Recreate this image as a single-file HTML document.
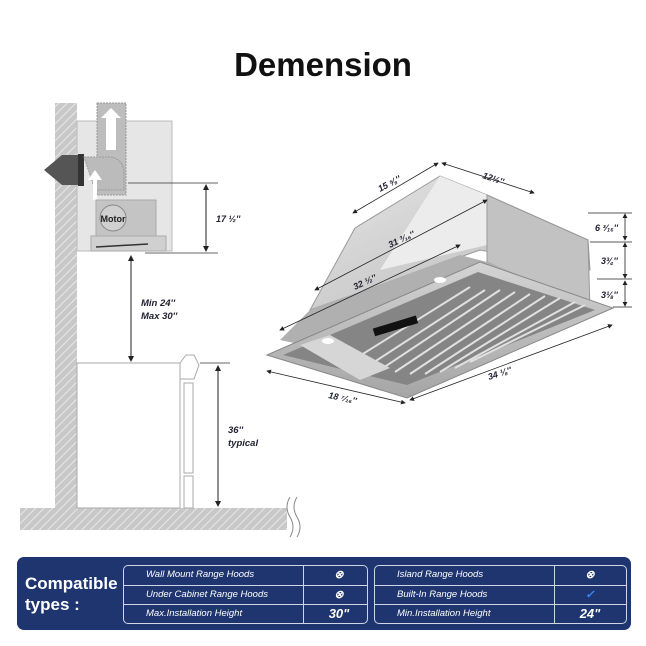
<!DOCTYPE html>
<html><head><meta charset="utf-8"><style>
body{margin:0;width:646px;height:646px;background:#fff;position:relative;overflow:hidden;font-family:"Liberation Sans",sans-serif}
.t{position:absolute;left:0;width:646px;top:46px;text-align:center;font-weight:bold;font-size:33px;color:#111}
svg{position:absolute;left:0;top:0}
.tb{position:absolute;left:17px;top:557px;width:614px;height:73px;background:#1f356f;border-radius:7px}
.ct{position:absolute;left:8px;top:16px;color:#fff;font-weight:bold;font-size:17px;line-height:21px}
.g{position:absolute;top:8px;height:57px;border:1.5px solid #cfd5e6;border-radius:5px}
.r{position:absolute;left:0;right:0;height:19px;border-top:1px solid #cfd5e6;color:#fff;font-style:italic;font-size:9.5px;line-height:18px}
.r span{position:absolute;left:22px}
.r b{position:absolute;top:0;bottom:0;border-left:1px solid #cfd5e6;width:70px;text-align:center;font-size:13px}
</style></head><body>
<div class="t">Demension</div>
<svg width="646" height="646" viewBox="0 0 646 646">
<defs>
<pattern id="h" width="6" height="6" patternUnits="userSpaceOnUse" patternTransform="rotate(45)"><rect width="6" height="6" fill="#c8c8c8"/><line x1="0" y1="0" x2="0" y2="6" stroke="#e8e8e8" stroke-width="2"/></pattern>
<linearGradient id="m1" x1="0" y1="0" x2="1" y2="1"><stop offset="0" stop-color="#e4e4e4"/><stop offset="1" stop-color="#b9b9b9"/></linearGradient>
<linearGradient id="m2" x1="0" y1="0" x2="0" y2="1"><stop offset="0" stop-color="#d4d4d4"/><stop offset="1" stop-color="#a5a5a5"/></linearGradient>
<marker id="a" markerWidth="6" markerHeight="6" refX="5" refY="3" orient="auto"><path d="M0,0L6,3L0,6z" fill="#222"/></marker>
<marker id="b" markerWidth="6" markerHeight="6" refX="1" refY="3" orient="auto"><path d="M6,0L0,3L6,6z" fill="#222"/></marker>
</defs>
<rect x="55" y="103" width="22" height="410" fill="url(#h)"/>
<rect x="20" y="508" width="267" height="22" fill="url(#h)"/>
<rect x="77" y="121" width="95" height="130" fill="#e6e6e6" stroke="#bbb"/>
<rect x="97" y="103" width="29" height="92" fill="#bdbdbd" stroke="#999" stroke-dasharray="2,1"/>
<path d="M106,150V118h-5l10,-10l10,10h-5V150z" fill="#fff"/>
<path d="M62,155h20v30h-20l-18,-15z" fill="#555"/>
<rect x="78" y="154" width="6" height="32" fill="#333"/>
<path d="M84,157h25a15,15 0 0 1 15,15v18h-29z" fill="#bbb" stroke="#999" stroke-dasharray="2,1"/>
<path d="M97,200v-20h5l-7,-10l-7,10h5v20z" fill="#fff"/>
<rect x="96" y="200" width="60" height="36" fill="#c4c4c4" stroke="#aaa"/>
<circle cx="113" cy="218" r="13" fill="#d0d0d0" stroke="#888"/>
<text x="113" y="222" font-size="9" font-weight="bold" text-anchor="middle" fill="#222">Motor</text>
<rect x="91" y="236" width="75" height="15" fill="#d0d0d0" stroke="#aaa"/>
<line x1="96" y1="247" x2="148" y2="244" stroke="#333" stroke-width="1.5"/>
<line x1="128" y1="183" x2="218" y2="183" stroke="#333" stroke-width=".8"/>
<line x1="145" y1="253" x2="218" y2="253" stroke="#333" stroke-width=".8"/>
<line x1="206" y1="185" x2="206" y2="251" stroke="#222" marker-end="url(#a)" marker-start="url(#b)"/>
<text x="216" y="222" font-size="9" font-style="italic" font-weight="bold" fill="#223">17 ½''</text>
<line x1="131" y1="256" x2="131" y2="361" stroke="#222" marker-end="url(#a)" marker-start="url(#b)"/>
<text x="141" y="306" font-size="9.5" font-style="italic" font-weight="bold" fill="#223">Min 24''</text>
<text x="141" y="319" font-size="9.5" font-style="italic" font-weight="bold" fill="#223">Max 30''</text>
<rect x="77" y="363" width="103" height="145" fill="#fff" stroke="#aaa"/>
<rect x="184" y="383" width="9" height="90" fill="#fff" stroke="#aaa"/>
<rect x="184" y="476" width="9" height="32" fill="#fff" stroke="#aaa"/>
<path d="M180,363l6,-8h8l5,10l-5,14h-14z" fill="#fff" stroke="#aaa"/>
<line x1="200" y1="363" x2="230" y2="363" stroke="#333" stroke-width=".8"/>
<line x1="218" y1="366" x2="218" y2="506" stroke="#222" marker-end="url(#a)" marker-start="url(#b)"/>
<text x="228" y="433" font-size="9.5" font-style="italic" font-weight="bold" fill="#223">36''</text>
<text x="228" y="446" font-size="9.5" font-style="italic" font-weight="bold" fill="#223">typical</text>
<path d="M290,497q-6,10 0,20t0,20M297,497q-6,10 0,20t0,20" fill="none" stroke="#888"/>
<polygon points="310,310 355,228 440,176 487,195 588,240 590,270 480,250" fill="url(#m1)" stroke="#999"/>
<polygon points="440,176 487,195 487,245 380,270" fill="#ececec"/>
<polygon points="487,195 588,240 590,310 487,262" fill="#c2c2c2" stroke="#999"/>
<polygon points="280,340 310,310 460,255 487,262 597,307 420,370" fill="#b0b0b0"/>
<polygon points="267,355 480,262 613,308 407,398" fill="url(#m2)" stroke="#888"/>
<polygon points="283,355 478,272 595,310 407,385" fill="#858585"/>
<g stroke="#e0e0e0" stroke-width="2">
<line x1="380" y1="370" x2="500" y2="290"/><line x1="395" y1="372" x2="515" y2="292"/><line x1="410" y1="374" x2="530" y2="294"/><line x1="425" y1="374" x2="545" y2="296"/><line x1="440" y1="372" x2="560" y2="298"/><line x1="455" y1="368" x2="575" y2="302"/><line x1="470" y1="362" x2="585" y2="305"/><line x1="365" y1="368" x2="485" y2="290"/><line x1="350" y1="362" x2="470" y2="287"/>
</g>
<polygon points="300,345 330,335 390,368 360,380" fill="#d6d6d6"/>
<rect x="373" y="322" width="45" height="8" fill="#111" transform="rotate(-17 395 326)"/>
<ellipse cx="328" cy="341" rx="6" ry="3" fill="#fff"/><ellipse cx="440" cy="280" rx="6" ry="3" fill="#fff"/>
<g stroke="#222" stroke-width=".8" fill="none">
<line x1="353" y1="213" x2="438" y2="163" marker-end="url(#a)" marker-start="url(#b)"/>
<line x1="442" y1="163" x2="534" y2="193" marker-end="url(#a)" marker-start="url(#b)"/>
<line x1="315" y1="290" x2="487" y2="200" marker-end="url(#a)" marker-start="url(#b)"/>
<line x1="280" y1="330" x2="460" y2="245" marker-end="url(#a)" marker-start="url(#b)"/>
<line x1="267" y1="371" x2="405" y2="403" marker-end="url(#a)" marker-start="url(#b)"/>
<line x1="410" y1="400" x2="612" y2="325" marker-end="url(#a)" marker-start="url(#b)"/>
<line x1="625" y1="214" x2="625" y2="240" marker-end="url(#a)" marker-start="url(#b)"/>
<line x1="625" y1="243" x2="625" y2="278" marker-end="url(#a)" marker-start="url(#b)"/>
<line x1="625" y1="281" x2="625" y2="306" marker-end="url(#a)" marker-start="url(#b)"/>
<line x1="588" y1="213" x2="632" y2="213"/><line x1="590" y1="242" x2="632" y2="242"/><line x1="597" y1="279" x2="632" y2="279"/><line x1="613" y1="307" x2="632" y2="307"/>
</g>
<g font-size="9" font-style="italic" font-weight="bold" fill="#223">
<text x="380" y="192" transform="rotate(-28 380 192)">15 ⅝''</text>
<text x="482" y="178" transform="rotate(18 482 178)">12½''</text>
<text x="390" y="248" transform="rotate(-25 390 248)">31 ³⁄₁₆''</text>
<text x="355" y="290" transform="rotate(-25 355 290)">32 ½''</text>
<text x="328" y="398" transform="rotate(12 328 398)">18 ⁷⁄₁₆''</text>
<text x="489" y="380" transform="rotate(-18 489 380)">34 ⅛''</text>
<text x="595" y="231">6 ³⁄₁₆''</text>
<text x="601" y="264">3¾''</text>
<text x="601" y="298">3⅛''</text>
</g>
</svg>
<div class="tb">
<div class="ct">Compatible<br>types :</div>
<div class="g" style="left:106px;width:243px">
<div class="r" style="top:0;border-top:none"><span>Wall Mount Range Hoods</span><b style="left:179px;font-size:11px">⊗</b></div>
<div class="r" style="top:19px"><span>Under Cabinet Range Hoods</span><b style="left:179px;font-size:11px">⊗</b></div>
<div class="r" style="top:38px"><span>Max.Installation Height</span><b style="left:179px">30"</b></div>
</div>
<div class="g" style="left:357px;width:251px">
<div class="r" style="top:0;border-top:none"><span>Island Range Hoods</span><b style="left:179px;font-size:11px">⊗</b></div>
<div class="r" style="top:19px"><span>Built-In Range Hoods</span><b style="left:179px;font-size:11px;color:#3b8cff">✓</b></div>
<div class="r" style="top:38px"><span>Min.Installation Height</span><b style="left:179px">24"</b></div>
</div>
</div>
</body></html>
